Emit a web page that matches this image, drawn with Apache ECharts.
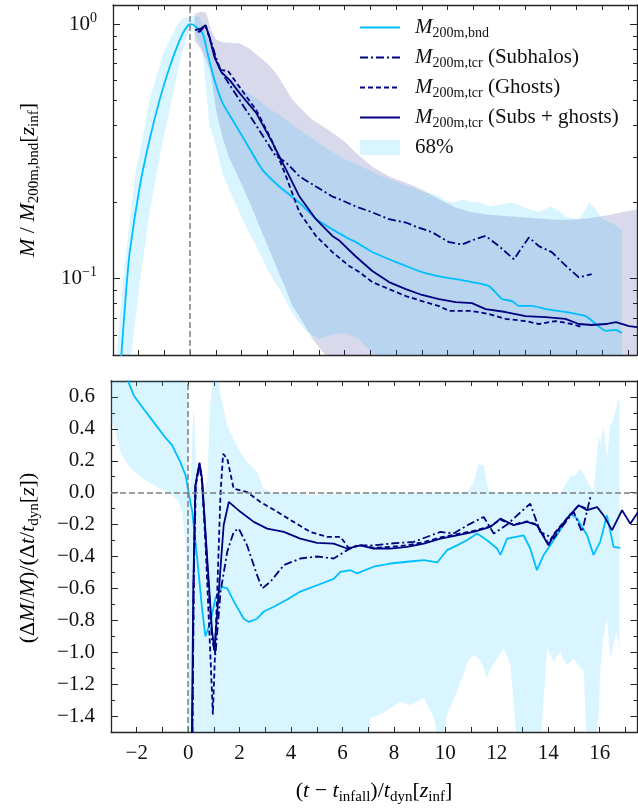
<!DOCTYPE html>
<html>
<head>
<meta charset="utf-8">
<script src="https://cdn.jsdelivr.net/npm/echarts@6.0.0/dist/echarts.min.js"></script>
<style>
html, body { margin: 0; padding: 0; background: #fff; }
#chart { width: 638px; height: 811px; }
</style>
</head>
<body>
<div id="chart"></div>
<script>
// ---- top panel: M / M200m,bnd[z_inf]  ([x, value]) ----
const topBnd = [[-2.75,0.042],[-2.67,0.051],[-2.5,0.087],[-2.35,0.127],[-1.96,0.23],[-1.58,0.351],[-1.19,0.504],[-0.8,0.679],[-0.41,0.866],[-0.2,0.955],[0,1.0],[0.12,0.995],[0.23,0.973],[0.48,0.922],[0.67,0.77],[0.94,0.604],[1.25,0.491],[1.64,0.421],[2.17,0.342],[2.8,0.268],[3.46,0.23],[4.23,0.199],[4.9,0.171],[5.52,0.156],[6.18,0.143],[6.43,0.139],[7.07,0.127],[7.72,0.119],[8.37,0.112],[9.0,0.106],[9.66,0.102],[10.31,0.0994],[10.94,0.0968],[11.6,0.0933],[12.11,0.083],[12.5,0.0815],[12.76,0.078],[13.27,0.078],[13.81,0.0758],[14.59,0.0738],[15.36,0.0711],[15.75,0.0662],[16.14,0.0622],[16.53,0.0627],[16.76,0.061]];
const topSub = [[0.3,0.93],[0.45,0.96],[0.6,0.98],[0.8,0.86],[1.0,0.74],[1.2,0.65],[1.91,0.504],[2.56,0.4],[3.3,0.305],[3.72,0.286],[4.24,0.252],[4.88,0.23],[5.52,0.21],[5.79,0.205],[6.43,0.192],[7.07,0.182],[7.72,0.171],[8.37,0.166],[8.76,0.16],[9.39,0.152],[10.05,0.139],[10.55,0.136],[11.09,0.143],[11.47,0.147],[11.99,0.134],[12.57,0.119],[13.15,0.145],[13.54,0.134],[14.04,0.127],[14.59,0.112],[15.09,0.101],[15.59,0.104]];
const topGho = [[0.35,0.93],[0.6,0.99],[0.8,0.85],[1.0,0.72],[1.2,0.66],[1.46,0.656],[1.91,0.567],[2.56,0.46],[3.19,0.345],[3.72,0.252],[4.24,0.182],[4.88,0.147],[5.52,0.127],[6.17,0.112],[6.56,0.106],[7.07,0.0968],[7.72,0.0908],[8.37,0.0853],[9.0,0.0815],[9.66,0.0779],[10.05,0.0745],[10.94,0.0745],[11.6,0.0725],[12.25,0.0693],[13.02,0.068],[13.54,0.0662],[14.19,0.068],[14.82,0.0662],[15.21,0.0644]];
const topSg = [[0.19,0.947],[0.4,0.96],[0.59,0.991],[0.75,0.889],[0.94,0.743],[1.2,0.65],[1.55,0.6],[1.91,0.537],[2.56,0.448],[3.19,0.342],[3.72,0.268],[4.24,0.21],[4.88,0.171],[5.52,0.147],[5.79,0.141],[6.43,0.122],[7.07,0.107],[7.72,0.0968],[8.37,0.0908],[9.0,0.0861],[9.66,0.083],[10.31,0.0807],[10.94,0.08],[11.47,0.0758],[12.25,0.0738],[13.02,0.0711],[13.8,0.0705],[14.57,0.0693],[15.09,0.0662],[15.59,0.0656],[16.14,0.0662],[16.53,0.0674],[17.04,0.065],[17.35,0.0644]];
// 68% ranges [x, low, high]
const topBndBand = [[-2.9,0.03,0.048],[-2.87,0.03,0.05],[-2.55,0.03,0.112],[-2.29,0.051,0.19],[-2.09,0.075,0.275],[-1.96,0.096,0.31],[-1.58,0.182,0.504],[-1.06,0.351,0.76],[-0.93,0.4,0.812],[-0.61,0.567,0.95],[-0.41,0.7,1.03],[-0.29,0.79,1.05],[-0.16,0.88,1.065],[0,0.96,1.07],[0.1,0.95,1.08],[0.36,0.85,1.07],[0.48,0.79,1.0],[0.75,0.395,0.85],[0.94,0.35,0.72],[1.25,0.26,0.66],[1.5,0.225,0.62],[1.91,0.182,0.57],[2.3,0.15,0.53],[2.69,0.127,0.5],[3.0,0.108,0.47],[3.46,0.091,0.44],[4.0,0.072,0.4],[4.5,0.062,0.37],[5.0,0.058,0.34],[5.5,0.06,0.315],[6.0,0.061,0.295],[6.5,0.058,0.28],[7.0,0.052,0.265],[7.5,0.045,0.25],[8.0,0.042,0.24],[8.5,0.04,0.23],[9.0,0.04,0.22],[9.4,0.04,0.215],[9.7,0.04,0.21],[10.0,0.04,0.2],[10.3,0.04,0.2],[10.6,0.04,0.205],[10.9,0.04,0.2],[11.2,0.04,0.2],[11.6,0.04,0.192],[12.0,0.04,0.195],[12.5,0.04,0.199],[13.0,0.04,0.19],[13.5,0.04,0.182],[14.0,0.04,0.192],[14.3,0.04,0.185],[14.6,0.04,0.175],[15.1,0.04,0.171],[15.5,0.04,0.199],[15.75,0.04,0.187],[16.0,0.04,0.171],[16.4,0.04,0.165],[16.76,0.04,0.155]];
const topTcrBand = [[0.17,0.86,1.1],[0.4,0.8,1.12],[0.62,0.72,1.11],[0.8,0.64,0.95],[1.0,0.46,0.87],[1.25,0.36,0.85],[1.5,0.3,0.845],[1.91,0.245,0.842],[2.3,0.2,0.8],[2.69,0.16,0.743],[3.0,0.135,0.7],[3.33,0.112,0.643],[3.65,0.094,0.57],[3.97,0.078,0.504],[4.35,0.068,0.46],[4.74,0.058,0.421],[5.1,0.052,0.4],[5.52,0.047,0.374],[6.0,0.044,0.345],[6.43,0.04,0.312],[7.07,0.04,0.275],[7.72,0.04,0.252],[8.37,0.04,0.238],[9.0,0.04,0.224],[9.66,0.04,0.205],[10.3,0.04,0.19],[10.94,0.04,0.182],[11.6,0.04,0.178],[12.25,0.04,0.176],[12.9,0.04,0.174],[13.54,0.04,0.172],[14.2,0.04,0.17],[14.82,0.04,0.17],[15.4,0.04,0.172],[15.87,0.04,0.175],[16.3,0.04,0.178],[16.76,0.04,0.182],[17.35,0.04,0.187]];

// ---- bottom panel: (dM/M)/(dt/t_dyn[z]) ----
const botBnd = [[-2.6,0.8],[-2.37,0.7125],[-2.11,0.608],[-1.73,0.525],[-1.34,0.442],[-0.95,0.358],[-0.62,0.296],[-0.3,0.19],[-0.1,0.108],[0,0.015],[0.16,-0.12],[0.35,-0.41],[0.54,-0.725],[0.67,-0.9],[0.87,-0.81],[1.06,-0.66],[1.32,-0.59],[1.52,-0.6],[1.77,-0.68],[2.16,-0.79],[2.36,-0.81],[2.68,-0.79],[2.94,-0.745],[3.33,-0.715],[3.85,-0.67],[4.36,-0.62],[5.01,-0.58],[5.66,-0.54],[5.92,-0.496],[6.31,-0.486],[6.57,-0.506],[7.21,-0.464],[7.86,-0.444],[8.51,-0.433],[9.16,-0.423],[9.68,-0.4375],[10.07,-0.36],[10.45,-0.33],[10.84,-0.298],[11.23,-0.256],[11.62,-0.298],[12.01,-0.35],[12.14,-0.39],[12.4,-0.2875],[13.04,-0.267],[13.3,-0.35],[13.56,-0.486],[13.82,-0.39],[14.21,-0.298],[14.86,-0.131],[15.12,-0.1625],[15.51,-0.267],[15.76,-0.39],[16.02,-0.308],[16.28,-0.142],[16.54,-0.34],[16.8,-0.346]];
const botSub = [[0.16,-1.6],[0.22,-0.5],[0.28,0.04],[0.44,0.18],[0.54,0.08],[0.74,-0.45],[0.93,-0.92],[1.06,-1.017],[1.26,-0.62],[1.52,-0.37],[1.77,-0.246],[1.97,-0.225],[2.29,-0.33],[2.68,-0.517],[2.88,-0.6],[3.2,-0.558],[3.72,-0.454],[4.36,-0.4125],[5.01,-0.4],[5.66,-0.4125],[6.18,-0.36],[6.57,-0.33],[7.21,-0.33],[7.86,-0.319],[8.77,-0.308],[9.81,-0.246],[10.32,-0.256],[10.9,-0.2],[11.49,-0.152],[11.88,-0.256],[12.4,-0.2],[12.79,-0.142],[13.3,-0.069],[13.69,-0.246],[14.21,-0.2875],[14.6,-0.2],[14.99,-0.12],[15.31,-0.246],[15.64,-0.027]];
const botGho = [[0.16,-1.6],[0.22,-0.5],[0.3,0.05],[0.44,0.17],[0.54,0.06],[0.67,-0.3],[0.87,-1.04],[0.96,-1.39],[1.13,-0.62],[1.26,0.004],[1.36,0.244],[1.52,0.2125],[1.77,0.025],[2.29,0.004],[2.81,-0.058],[3.46,-0.12],[4.1,-0.183],[4.75,-0.246],[5.4,-0.277],[5.92,-0.277],[6.24,-0.346],[6.7,-0.33],[7.21,-0.345],[7.86,-0.34],[8.51,-0.33],[9.16,-0.31],[9.81,-0.28],[10.45,-0.26],[11.1,-0.24],[11.75,-0.21],[12.14,-0.17],[12.65,-0.2],[13.18,-0.18],[13.56,-0.2],[14.01,-0.32],[14.21,-0.26],[14.73,-0.16],[15.18,-0.08],[15.5,-0.1]];
const botSg = [[0.14,-1.6],[0.2,-0.6],[0.28,0.046],[0.44,0.1875],[0.54,0.0875],[0.74,-0.41],[0.93,-0.87],[1.02,-0.985],[1.19,-0.62],[1.38,-0.204],[1.58,-0.058],[2.03,-0.12],[2.55,-0.183],[3.07,-0.225],[3.72,-0.246],[4.36,-0.2875],[5.01,-0.315],[5.66,-0.319],[6.18,-0.35],[6.7,-0.33],[7.21,-0.35],[7.86,-0.35],[8.51,-0.34],[9.16,-0.319],[9.81,-0.2875],[10.45,-0.267],[11.1,-0.246],[11.75,-0.215],[12.14,-0.1625],[12.65,-0.204],[13.18,-0.183],[13.56,-0.204],[14.01,-0.33],[14.21,-0.267],[14.73,-0.1625],[15.18,-0.079],[15.51,-0.11],[15.9,-0.09],[16.15,-0.142],[16.48,-0.235],[16.87,-0.11],[17.19,-0.194],[17.5,-0.12]];
const botBand = [[-3,0.44,1],[-2.89,0.42,1],[-2.63,0.254,1],[-2.24,0.15,1],[-1.73,0.0875,1],[-1.34,0.046,1],[-0.82,0.004,1],[-0.43,-0.0375,1],[-0.23,-0.12,1],[-0.1,-0.33,1],[-0.04,-0.83,1],[-0.02,-1.7,1],[0.02,-1.7,0.0],[0.1,-1.7,0.05],[0.18,-1.7,0.45],[0.22,-1.7,0.525],[0.28,-1.7,0.3],[0.35,-1.7,0.1],[0.45,-1.7,0.02],[0.61,-1.7,0.004],[0.75,-1.7,0.1],[0.85,-1.7,0.55],[0.93,-1.7,0.65],[1.0,-1.7,0.8],[1.15,-1.7,0.8],[1.25,-1.7,0.62],[1.38,-1.7,0.525],[1.52,-1.7,0.42],[1.77,-1.7,0.3375],[2.03,-1.7,0.254],[2.29,-1.7,0.19],[2.68,-1.7,0.129],[2.94,-1.7,0.025],[3.3,-1.7,0.0],[4.0,-1.7,0.0],[5.0,-1.7,-0.017],[5.5,-1.7,0.0],[6.0,-1.7,-0.01],[7.0,-1.7,0.0],[7.08,-1.4125,0.0],[7.47,-1.39,0.0],[8.25,-1.31,0.0],[8.64,-1.33,0.0],[9.16,-1.29,0.0],[9.55,-1.41,0.0],[9.8,-1.6,0.0],[10.07,-1.39,0.0],[10.45,-1.246,0.0],[10.9,-1.05,0.01],[11.1,-1.017,0.067],[11.3,-1.04,0.18],[11.5,-1.1,0.17],[11.62,-1.1625,0.05],[11.7,-1.12,0.01],[12.01,-1.04,0.0],[12.27,-0.975,0.0],[12.53,-1.08,0.0],[12.8,-1.6,0.0],[13.3,-1.6,0.0],[13.7,-1.6,0.0],[13.95,-0.975,0.0],[14.21,-1.06,0.0],[14.47,-0.996,0.0],[14.6,-1.05,0.03],[14.73,-1.08,0.067],[14.86,-1.06,0.108],[14.99,-1.04,0.1],[15.25,-1.1,0.15],[15.38,-1.12,0.12],[15.5,-1.6,0.08],[15.76,-1.6,0.0],[15.96,-1.4,0.358],[16.02,-1.12,0.3],[16.15,-0.9,0.42],[16.28,-0.79,0.21],[16.41,-1.04,0.42],[16.54,-0.95,0.4625],[16.67,-0.87,0.546],[16.77,-1.0,0.6]];

// ticks
const xTicks = [-2,-1,0,1,2,3,4,5,6,7,8,9,10,11,12,13,14,15,16,17];
const xLabels = [-2,0,2,4,6,8,10,12,14,16];
const logMajor = [0.1, 1];
const logMinor = [0.06,0.07,0.08,0.09,0.2,0.3,0.4,0.5,0.6,0.7,0.8,0.9];
const linMajor = [-1.4,-1.2,-1.0,-0.8,-0.6,-0.4,-0.2,0,0.2,0.4,0.6];
const linMinor = [-1.3,-1.1,-0.9,-0.7,-0.5,-0.3,-0.1,0.1,0.3,0.5,0.7];

const FONT = '"Liberation Serif", "DejaVu Serif", serif';
const SKY = '#00bfff', NAVY = '#000080';
const BAND_SKY = 'rgba(0,191,255,0.15)', BAND_NAVY = 'rgba(0,0,128,0.15)';
const AXC = '#262626', TXT = '#111';

function richSet(fs, fsSub, lh) {
    return {
        n: { fontFamily: FONT, fontSize: fs, color: TXT, lineHeight: lh },
        i: { fontFamily: FONT, fontSize: fs, fontStyle: 'italic', color: TXT, lineHeight: lh },
        s: { fontFamily: FONT, fontSize: fsSub, color: TXT, lineHeight: Math.round(lh * 0.42), verticalAlign: 'bottom' },
        p: { fontFamily: FONT, fontSize: fsSub, color: TXT, lineHeight: Math.round(lh * 0.42), verticalAlign: 'top' }
    };
}
const rich = richSet(21, 14, 26);
const richTitle = richSet(22, 15, 27);
const minus = s => String(s).replace('-', '\u2212');

function xAxisOf(gridIndex, position, showLabels, max) {
    return {
        type: 'value', gridIndex, position, min: -3, max,
        axisLine: { show: true, onZero: false, lineStyle: { color: AXC, width: 1.3 } },
        axisTick: { show: true, inside: true, length: 5, customValues: xTicks, lineStyle: { color: AXC, width: 1 } },
        axisLabel: { show: showLabels, customValues: xLabels, margin: 11, fontFamily: FONT, fontSize: 21, color: TXT,
            formatter: v => minus(v) },
        splitLine: { show: false }
    };
}
function yAxisOf(gridIndex, position, kind, major, labels) {
    const isLog = kind === 'log';
    return {
        type: isLog ? 'log' : 'value', logBase: 10, gridIndex, position,
        min: isLog ? 0.05 : -1.5, max: isLog ? 1.19 : 0.7,
        axisLine: { show: major, onZero: false, lineStyle: { color: AXC, width: 1.3 } },
        axisTick: { show: true, inside: true, length: major ? 7 : 4,
            customValues: isLog ? (major ? logMajor : logMinor) : (major ? linMajor : linMinor),
            lineStyle: { color: AXC, width: 1 } },
        axisLabel: { show: labels, customValues: isLog ? logMajor : linMajor, margin: 16,
            fontFamily: FONT, fontSize: 21, color: TXT, rich,
            formatter: isLog ? (v => v > 0.5 ? '{n|10}{p|0}' : '{n|10}{p|\u22121}') : (v => minus(v.toFixed(1))) },
        splitLine: { show: false }, minorTick: { show: false }
    };
}
function line(name, pts, xi, yi, color, type, extra) {
    return Object.assign({
        name, type: 'line', xAxisIndex: xi, yAxisIndex: yi, data: pts, symbol: 'none', clip: true,
        lineStyle: { color, width: 1.8, type }, itemStyle: { color }, z: 4
    }, extra || {});
}
function band(name, rows, xi, yi, color) {
    return {
        name, type: 'custom', xAxisIndex: xi, yAxisIndex: yi, clip: true, silent: true, z: 1,
        data: rows, encode: { x: 0, y: [1, 2] }, itemStyle: { color },
        renderItem: function (params, api) {
            if (params.dataIndex !== 0) return;
            const pts = rows.map(r => api.coord([r[0], r[2]]));
            for (let k = rows.length - 1; k >= 0; k--) pts.push(api.coord([rows[k][0], rows[k][1]]));
            return { type: 'polygon', shape: { points: pts }, style: { fill: color } };
        }
    };
}
const zeroLine = (lines) => ({
    silent: true, symbol: ['none', 'none'], label: { show: false },
    lineStyle: { color: '#7f7f7f', type: [6, 3], width: 1.5 }, data: lines, animation: false
});

const legendText = {
    bnd: '{i|M}{s|200m,bnd}',
    sub: '{i|M}{s|200m,tcr}{n| (Subhalos)}',
    gho: '{i|M}{s|200m,tcr}{n| (Ghosts)}',
    sg: '{i|M}{s|200m,tcr}{n| (Subs + ghosts)}',
    '68%': '{n|68%}'
};
const DASH = [5, 3], DASHDOT = [8, 3, 2, 3];
const noDot = { opacity: 0 };

const chart = echarts.init(document.getElementById('chart'), null, { renderer: 'canvas' });
chart.setOption({
    animation: false,
    backgroundColor: '#fff',
    grid: [
        { left: 113, top: 5, width: 524, height: 350 },
        { left: 111, top: 381, width: 526.5, height: 351 }
    ],
    xAxis: [
        xAxisOf(0, 'bottom', false, 17.35),
        xAxisOf(0, 'top', false, 17.35),
        xAxisOf(1, 'bottom', true, 17.47),
        xAxisOf(1, 'top', false, 17.47)
    ],
    yAxis: [
        yAxisOf(0, 'left', 'log', true, true),
        yAxisOf(0, 'left', 'log', false, false),
        yAxisOf(0, 'right', 'log', true, false),
        yAxisOf(0, 'right', 'log', false, false),
        yAxisOf(1, 'left', 'lin', true, true),
        yAxisOf(1, 'left', 'lin', false, false),
        yAxisOf(1, 'right', 'lin', true, false),
        yAxisOf(1, 'right', 'lin', false, false)
    ],
    legend: {
        selectedMode: false, orient: 'vertical', left: 359, top: 17, padding: 0,
        itemWidth: 40, itemHeight: 15, itemGap: 6.5,
        formatter: name => legendText[name],
        textStyle: { rich, padding: [0, 0, 0, 10] },
        data: [
            { name: 'bnd', itemStyle: noDot }, { name: 'sub', itemStyle: noDot },
            { name: 'gho', itemStyle: noDot }, { name: 'sg', itemStyle: noDot },
            { name: '68%', icon: 'rect', itemStyle: { color: BAND_SKY } }
        ]
    },
    graphic: [
        { type: 'text', x: 28, y: 180, rotation: Math.PI / 2,
          style: { text: '{i|M}{n| / }{i|M}{s|200m,bnd}{n|[}{i|z}{s|inf}{n|]}', rich: richTitle, align: 'center', verticalAlign: 'middle' } },
        { type: 'text', x: 28, y: 558, rotation: Math.PI / 2,
          style: { text: '{n|(\u0394}{i|M}{n|/}{i|M}{n|)/(\u0394}{i|t}{n|/}{i|t}{s|dyn}{n|[}{i|z}{n|])}', rich: richTitle, align: 'center', verticalAlign: 'middle' } },
        { type: 'text', x: 374, y: 791,
          style: { text: '{n|(}{i|t}{n| \u2212 }{i|t}{s|infall}{n|)/}{i|t}{s|dyn}{n|[}{i|z}{s|inf}{n|]}', rich: richTitle, align: 'center', verticalAlign: 'middle' } }
    ],
    series: [
        band('tcr68', topTcrBand, 0, 0, BAND_NAVY),
        band('68%', topBndBand, 0, 0, BAND_SKY),
        line('bnd', topBnd, 0, 0, SKY, 'solid', { smooth: 0.2, markLine: zeroLine([{ xAxis: 0 }]) }),
        line('sub', topSub, 0, 0, NAVY, DASHDOT),
        line('gho', topGho, 0, 0, NAVY, DASH),
        line('sg', topSg, 0, 0, NAVY, 'solid'),

        band('68%', botBand, 2, 4, BAND_SKY),
        line('bnd', botBnd, 2, 4, SKY, 'solid', { markLine: zeroLine([{ xAxis: 0 }, { yAxis: 0 }]) }),
        line('sub', botSub, 2, 4, NAVY, DASHDOT),
        line('gho', botGho, 2, 4, NAVY, DASH),
        line('sg', botSg, 2, 4, NAVY, 'solid')
    ]
});
</script>
</body>
</html>
